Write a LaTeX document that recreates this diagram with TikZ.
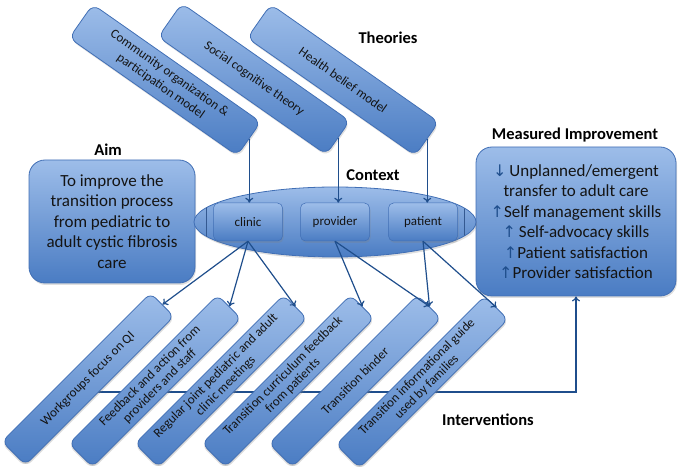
\documentclass[tikz,border=0pt]{standalone}
\usepackage{fontspec}
\setmainfont{Carlito}
\newfontfamily\arrfont{DejaVu Sans}
\usetikzlibrary{shapes.geometric,arrows.meta,shadows,calc}
\definecolor{boxtop}{HTML}{9DBDE9}
\definecolor{boxbot}{HTML}{4A7CC3}
\definecolor{boxline}{HTML}{416FB5}
\definecolor{arrowc}{HTML}{1F4E8C}
\definecolor{txt}{HTML}{141414}
\newcommand{\upa}{{\arrfont\color{arrowc}\fontsize{16}{20.5}\selectfont ↑}}
\newcommand{\dna}{{\arrfont\color{arrowc}\fontsize{16}{20.5}\selectfont ↓}}
\begin{document}
\begin{tikzpicture}[x=1pt,y=-1pt,
  bluebox/.style={draw=boxline, line width=0.8pt, top color=boxtop, bottom color=boxbot,
    rounded corners=8pt, text=txt, align=center, inner sep=2pt,
    drop shadow={shadow xshift=1pt, shadow yshift=-2pt, opacity=0.25}},
  theory/.style={bluebox, minimum width=205pt, minimum height=41pt, rotate=-35,
    font=\fontsize{13}{15.5}\selectfont},
  interv/.style={bluebox, minimum width=210pt, minimum height=33pt, rotate=45,
    font=\fontsize{13}{14}\selectfont, inner sep=1pt, rounded corners=7pt,
    drop shadow={shadow xshift=-0.7pt, shadow yshift=-2pt, opacity=0.25}},
  ctxbox/.style={bluebox, rounded corners=5pt, minimum width=69pt, minimum height=38pt,
    font=\fontsize{13}{15}\selectfont, line width=0.5pt},
  bigbox/.style={bluebox, rounded corners=16pt, font=\fontsize{17}{20.5}\selectfont},
  lbl/.style={font=\fontsize{16.5}{19}\selectfont\bfseries, text=black},
  arr/.style={draw=arrowc, line width=1.2pt, -{To[length=5pt,width=8pt]}},
]
\useasboundingbox (0,0) rectangle (680,470);

% feedback line (behind interventions)
\coordinate (fb) at (95,392);

% Measured improvement box
\node[bigbox, minimum width=200pt, minimum height=149pt] (meas) at (576,221.5)
  {\dna\,Unplanned/emergent\\transfer to adult care\\\upa Self management skills\\\upa\,Self-advocacy skills\\\upa Patient satisfaction\\\upa Provider satisfaction};
\draw[arr] (fb) -| (meas.south);

% Theories
\node[theory] (t1) at (165,80) {Community organization \&\\participation model};
\node[theory] (t2) at (254,79) {Social cognitive theory};
\node[theory] (t3) at (343,80) {Health belief model};

% Aim
\node[bigbox, minimum width=166pt, minimum height=123pt] (aim) at (112,221.5)
  {To improve the\\transition process\\from pediatric to\\adult cystic fibrosis\\care};

% Context
\node[ellipse, draw=boxline, line width=0.8pt, top color=boxtop, bottom color=boxbot,
  minimum width=282pt, minimum height=70pt,
  drop shadow={shadow xshift=1pt, shadow yshift=-2pt, opacity=0.25}] (ctx) at (335,222) {};
\begin{scope}
  \clip (335,222) ellipse [x radius=141pt, y radius=35pt];
  \draw[boxline!80!black, line width=0.4pt] (206,180) -- (206,265);
  \draw[boxline!80!black, line width=0.4pt] (464,180) -- (464,265);
\end{scope}
\node[ctxbox] (clinic) at (248,222) {clinic};
\node[ctxbox] (provider) at (335,222) {provider};
\node[ctxbox] (patient) at (423,222) {patient};

% Interventions
\node[interv] (i1) at (88,379) {Workgroups focus on QI};
\node[interv] (i2) at (155,381) {Feedback and action from\\providers and staff};
\node[interv] (i3) at (221,381) {Regular joint pediatric and adult\\clinic meetings};
\node[interv] (i4) at (288,381) {Transition curriculum feedback\\from patients};
\node[interv] (i5) at (355,381) {Transition binder};
\node[interv] (i6) at (422,382) {Transition informational guide\\used by families};

% Labels
\node[lbl] (lt) at (388,38) {Theories};
\node[lbl] (la) at (108,150) {Aim};
\node[lbl] (lc) at (373,175) {Context};
\node[lbl] (lm) at (575,135) {Measured Improvement};
\node[lbl] (li) at (488,420) {Interventions};

% Arrows theories -> context
\draw[arr] (t1.east) -- (t1.east |- clinic.north);
\draw[arr] (t2.east) -- (t2.east |- provider.north);
\draw[arr] (t3.east) -- (t3.east |- patient.north);

% Arrows context -> interventions
\draw[arr] (clinic.south) -- (i1.east);
\draw[arr] (clinic.south) -- (i2.east);
\draw[arr] (clinic.south) -- (i3.east);
\draw[arr] (provider.south) -- (i4.east);
\draw[arr] (provider.south) -- (i5.east);
\draw[arr] (patient.south) -- (i5.east);
\draw[arr] (patient.south) -- (i6.east);
\end{tikzpicture}
\end{document}
